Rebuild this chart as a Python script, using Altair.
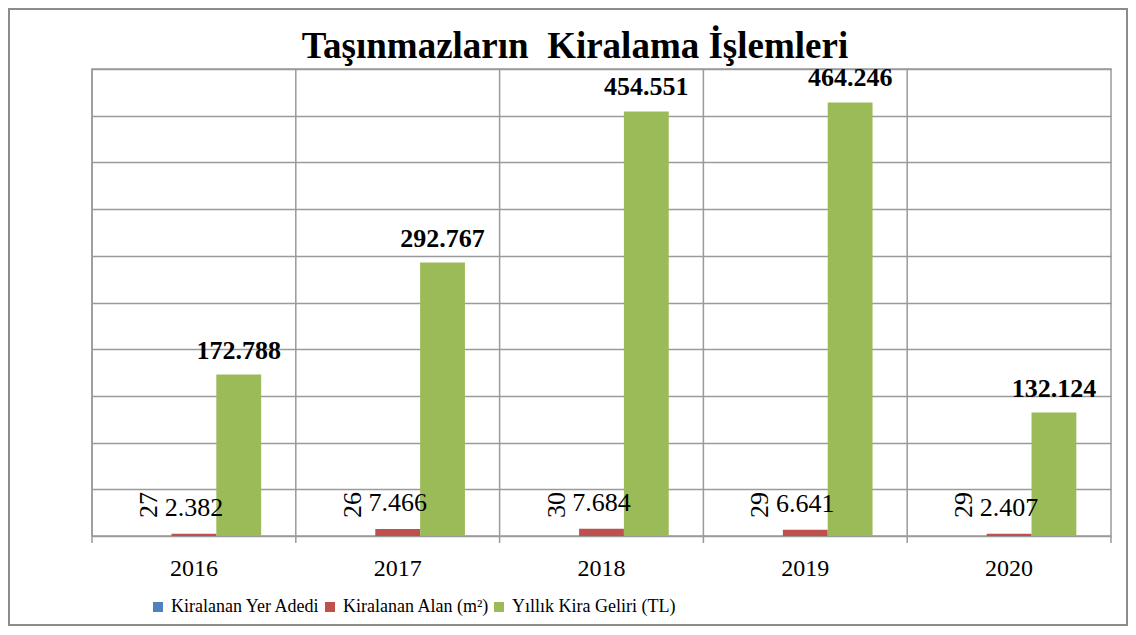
import altair as alt
import pandas as pd

years = ["2016", "2017", "2018", "2019", "2020"]
series_names = ["Kiralanan Yer Adedi", "Kiralanan Alan (m²)", "Yıllık Kira Geliri (TL)"]
yer_adedi = [27, 26, 30, 29, 29]
alan = [2382, 7466, 7684, 6641, 2407]
gelir = [172788, 292767, 454551, 464246, 132124]
colors = ["#4F81BD", "#C0504D", "#9BBB59"]
y_ticks = [0, 50000, 100000, 150000, 200000, 250000, 300000, 350000, 400000, 450000, 500000]
title_text = "Taşınmazların\u00a0 Kiralama İşlemleri"

rows = []
for i, y in enumerate(years):
    for s, vals in zip(series_names, [yer_adedi, alan, gelir]):
        v = vals[i]
        rows.append({"year": y, "series": s, "value": v,
                     "label": f"{v:,}".replace(",", ".")})
df = pd.DataFrame(rows)

W, H = 1019, 467
PAD = {"left": 84, "top": 61, "right": 17, "bottom": 90}
FONT = "Liberation Serif"
GRID = "#9a9a9a"

x_enc = alt.X("year:N", sort=years,
              scale=alt.Scale(paddingInner=0, paddingOuter=0),
              axis=alt.Axis(title=None, ticks=False, domain=False, grid=False,
                            labelFont=FONT, labelFontSize=24, labelColor="#000",
                            labelPadding=20, labelAngle=0, labelAlign="center",
                            labelBaseline="top"))
xoff = alt.XOffset("series:N", sort=series_names,
                   scale=alt.Scale(paddingInner=0, paddingOuter=0.773))
y_enc = alt.Y("value:Q", scale=alt.Scale(domain=[0, 500000]),
              axis=alt.Axis(title=None, labels=False, ticks=False, domain=False,
                            grid=True, values=y_ticks, gridColor=GRID, gridWidth=1.5))

base = alt.Chart(df)

bars = base.mark_bar().encode(
    x=x_enc, xOffset=xoff, y=y_enc,
    color=alt.Color("series:N", sort=series_names,
                    scale=alt.Scale(domain=series_names, range=colors),
                    legend=alt.Legend(title=None, orient="none", direction="horizontal",
                                      legendX=57, legendY=529,
                                      labelFont=FONT, labelFontSize=18, labelColor="#000",
                                      labelLimit=0,
                                      symbolType="square", symbolSize=100,
                                      symbolStrokeWidth=0, labelOffset=4,
                                      columnPadding=-9)),
)

lbl_blue = base.transform_filter(alt.datum.series == series_names[0]).mark_text(
    font=FONT, fontSize=26, angle=270, align="left", baseline="middle", dx=18, color="#000"
).encode(x=x_enc, xOffset=xoff, y="value:Q", text="label:N")

lbl_red = base.transform_filter(alt.datum.series == series_names[1]).mark_text(
    font=FONT, fontSize=26, align="center", baseline="alphabetic", dy=-18, color="#000"
).encode(x=x_enc, xOffset=xoff, y="value:Q", text="label:N")

lbl_green = base.transform_filter(alt.datum.series == series_names[2]).mark_text(
    font=FONT, fontSize=26, fontWeight="bold", align="center", baseline="alphabetic",
    dy=-16, color="#000"
).encode(x=x_enc, xOffset=xoff, y="value:Q", text="label:N")

sep = alt.Chart(pd.DataFrame({"year": years})).mark_rule(color=GRID, strokeWidth=1.5).encode(
    x=alt.X("year:N", sort=years, bandPosition=0),
    y=alt.value(0), y2=alt.value(H + 7))

right_tick = alt.Chart(pd.DataFrame({"k": [1]})).mark_rule(color=GRID, strokeWidth=1.5).encode(
    x=alt.value(W), y=alt.value(H), y2=alt.value(H + 7))

frame = alt.Chart(pd.DataFrame({"k": [1]})).mark_rect(
    fill=None, stroke="#8c8c8c", strokeWidth=2).encode(
    x=alt.value(-PAD["left"] + 1), x2=alt.value(W + PAD["right"] - 1),
    y=alt.value(-PAD["top"] + 1), y2=alt.value(H + PAD["bottom"] - 1))

title = alt.Chart(pd.DataFrame({"t": [title_text]})).mark_text(
    font=FONT, fontSize=37, fontWeight="bold", color="#000",
    align="center", baseline="alphabetic").encode(
    x=alt.value(483), y=alt.value(-11), text="t:N")

chart = alt.layer(sep, right_tick, bars, lbl_blue, lbl_red, lbl_green, frame, title).properties(
    width=W, height=H,
    autosize=alt.AutoSizeParams(type="none"),
    padding=PAD,
).configure(background="white", font=FONT).configure_view(
    stroke=GRID, strokeWidth=1.5).configure_legend(
    labelFont=FONT, labelFontSize=18, labelLimit=0)

chart.save("out.html", embed_options={"renderer": "svg", "actions": False})
